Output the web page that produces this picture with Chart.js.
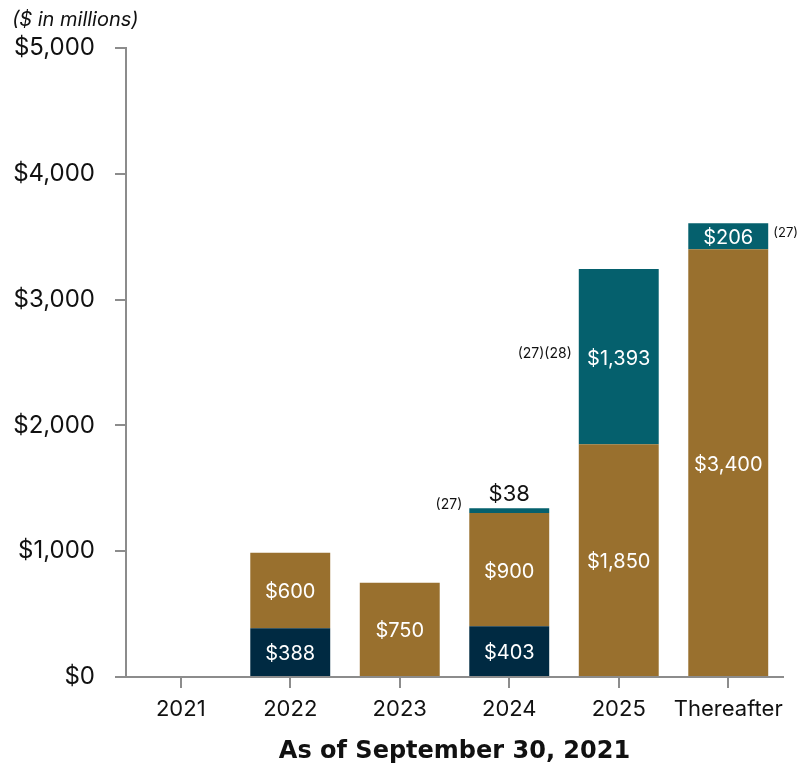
<!DOCTYPE html>
<html>
<head>
<meta charset="utf-8">
<script src="https://cdn.jsdelivr.net/npm/chart.js@4/dist/chart.umd.min.js"></script>
<style>
  html, body { margin: 0; padding: 0; background: #ffffff; }
  #wrap { position: relative; width: 799px; height: 766px; }
  #unit { position: absolute; left: 12px; top: 7px; font: italic 20px Inter, "Open Sans", sans-serif; color: #111; }
</style>
</head>
<body>
<div id="wrap">
  <div id="unit">($ in millions)</div>
  <canvas id="c" width="799" height="766"></canvas>
</div>
<script>
// Debt maturities by year ($ in millions)
const categories = ['2021', '2022', '2023', '2024', '2025', 'Thereafter'];
const navyValues  = [0, 388, 0, 403, 0, 0];
const brownValues = [0, 600, 750, 900, 1850, 3400];
const tealValues  = [0, 0, 0, 38, 1393, 206];
const yTicks = [0, 1000, 2000, 3000, 4000, 5000];

// footnote markers attached to a segment: [dataset, category index, text, side]
const notes = [
  [2, 3, '(27)', 'left'],
  [2, 4, '(27)(28)', 'left'],
  [2, 5, '(27)', 'right']
];

const FONT = 'Inter, "Open Sans", sans-serif';
const money = v => '$' + v.toLocaleString('en-US');

const labelPlugin = {
  id: 'segLabels',
  afterDatasetsDraw(chart) {
    const ctx = chart.ctx;
    ctx.save();
    ctx.textBaseline = 'middle';
    chart.data.datasets.forEach((ds, di) => {
      const meta = chart.getDatasetMeta(di);
      meta.data.forEach((bar, i) => {
        const v = ds.data[i];
        if (!v) return;
        const top = Math.min(bar.y, bar.base), bot = Math.max(bar.y, bar.base);
        const h = bot - top;
        ctx.textAlign = 'center';
        if (h >= 22) {
          ctx.fillStyle = '#ffffff';
          ctx.font = '20px ' + FONT;
          ctx.fillText(money(v), bar.x, (top + bot) / 2 + 2);
        } else {
          ctx.fillStyle = '#111111';
          ctx.font = '22px ' + FONT;
          ctx.fillText(money(v), bar.x, top - 14);
        }
      });
    });
    ctx.fillStyle = '#111111';
    notes.forEach(([di, i, text, side]) => {
      const bar = chart.getDatasetMeta(di).data[i];
      const top = Math.min(bar.y, bar.base), bot = Math.max(bar.y, bar.base);
      const h = bot - top;
      const y = h >= 22 ? (top + bot) / 2 - 3 : top - 4;
      if (side === 'left') {
        ctx.font = '14px ' + FONT;
        ctx.textAlign = 'right';
        ctx.fillText(text, bar.x - bar.width / 2 - 7, y);
      } else {
        ctx.font = '13px ' + FONT;
        ctx.textAlign = 'left';
        ctx.fillText(text, bar.x + bar.width / 2 + 5, y);
      }
    });
    ctx.restore();
  }
};

const common = { barPercentage: 0.73, categoryPercentage: 1.0, borderWidth: 0 };

new Chart(document.getElementById('c'), {
  type: 'bar',
  data: {
    labels: categories,
    datasets: [
      Object.assign({ label: 'Secured', data: navyValues, backgroundColor: '#002a42' }, common),
      Object.assign({ label: 'Senior', data: brownValues, backgroundColor: '#99702e' }, common),
      Object.assign({ label: 'Other', data: tealValues, backgroundColor: '#05606d' }, common)
    ]
  },
  options: {
    responsive: false,
    animation: false,
    devicePixelRatio: 1,
    layout: { padding: { top: 48, right: 16, left: 0, bottom: 0 } },
    plugins: {
      legend: { display: false },
      tooltip: { enabled: false }
    },
    scales: {
      x: {
        stacked: true,
        grid: { display: true, offset: false, drawOnChartArea: false, drawTicks: true, tickLength: 11, color: '#8c8c8c', lineWidth: 2 },
        border: { display: true, color: '#8c8c8c', width: 2 },
        ticks: { color: '#111', font: { family: FONT, size: 22 }, padding: 8, maxRotation: 0, autoSkip: false },
        title: { display: true, text: 'As of September 30, 2021', color: '#111', font: { family: '"DejaVu Sans", sans-serif', size: 24, weight: '700' }, padding: { top: 8, bottom: 0 } },
        afterFit(scale) { scale.height = 89; }
      },
      y: {
        stacked: true,
        min: 0, max: 5000,
        afterBuildTicks(scale) { scale.ticks = yTicks.map(v => ({ value: v })); },
        grid: { display: true, drawOnChartArea: false, drawTicks: true, tickLength: 11, color: '#8c8c8c', lineWidth: 2 },
        border: { display: true, color: '#8c8c8c', width: 2 },
        ticks: { color: '#111', font: { family: FONT, size: 24 }, padding: 20, callback: v => money(v) },
        afterFit(scale) { scale.width = 126; }
      }
    }
  },
  plugins: [labelPlugin]
});
</script>
</body>
</html>
